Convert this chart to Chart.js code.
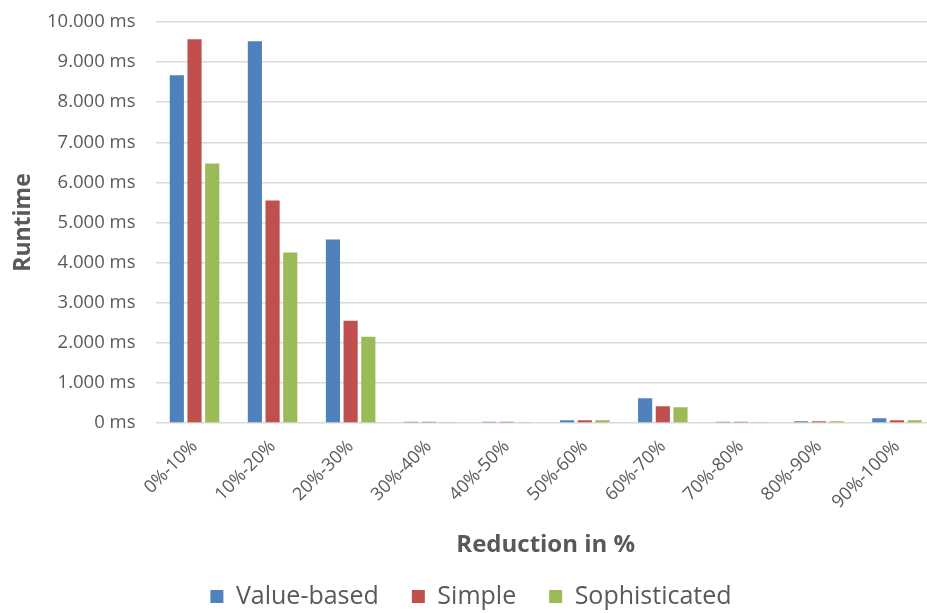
<!DOCTYPE html>
<html>
<head>
<meta charset="utf-8">
<script src="https://cdn.jsdelivr.net/npm/chart.js@4/dist/chart.umd.min.js"></script>
<style>
html,body{margin:0;padding:0;background:#fff;overflow:hidden;}
#wrap{position:absolute;left:0;top:0;width:942px;height:613px;}
</style>
</head>
<body>
<div id="wrap"><canvas id="c"></canvas></div>
<script>
const categories = ["0%-10%","10%-20%","20%-30%","30%-40%","40%-50%","50%-60%","60%-70%","70%-80%","80%-90%","90%-100%"];
const valueBased = [8670, 9520, 4575, 30, 30, 70, 620, 30, 45, 120];
const simple = [9570, 5550, 2550, 30, 30, 70, 420, 30, 45, 70];
const sophisticated = [6470, 4250, 2150, 25, 25, 70, 390, 25, 45, 70];
const seriesNames = ["Value-based","Simple","Sophisticated"];
const colors = ["#4f81bd","#c0504d","#9bbb59"];

const FONT = "'Open Sans', sans-serif";
function fmt(v){ return String(v).replace(/\B(?=(\d{3})+(?!\d))/g, ".") + " ms"; }

new Chart(document.getElementById('c'), {
  type: 'bar',
  data: {
    labels: categories,
    datasets: [valueBased, simple, sophisticated].map((d,i)=>({
      label: seriesNames[i], data: d, backgroundColor: colors[i],
      borderWidth: 0, barPercentage: 0.8, categoryPercentage: 0.68
    }))
  },
  options: {
    responsive: true, maintainAspectRatio: false, animation: false,
    layout: { padding: { top: 22, left: 6, right: 6, bottom: -6 } },
    plugins: {
      legend: { position: 'bottom', labels: { font: { family: FONT, size: 25 }, color: '#595959', boxWidth: 13, boxHeight: 13, padding: 33 } },
      tooltip: { enabled: false }
    },
    scales: {
      x: {
        grid: { display: false },
        border: { display: false },
        afterFit: s => { s.height = 128; },
        ticks: { font: { family: FONT, size: 18 }, color: '#595959', maxRotation: 45, minRotation: 45, padding: 5 },
        title: { display: true, text: 'Reduction in %', font: { family: FONT, size: 24, weight: 'bold' }, color: '#595959', padding: { top: 4, bottom: -9 } }
      },
      y: {
        min: 0, max: 10000,
        afterFit: s => { s.width = 149.5; s.paddingTop = 0; },
        ticks: { stepSize: 1000, font: { family: FONT, size: 18.5 }, color: '#595959', padding: 20, callback: v => fmt(v) },
        grid: { color: '#d9d9d9', lineWidth: 1.5, drawTicks: false },
        border: { display: false },
        title: { display: true, text: 'Runtime', font: { family: FONT, size: 23, weight: 'bold' }, color: '#595959', padding: { bottom: 0 } }
      }
    }
  }
});
</script>
</body>
</html>
